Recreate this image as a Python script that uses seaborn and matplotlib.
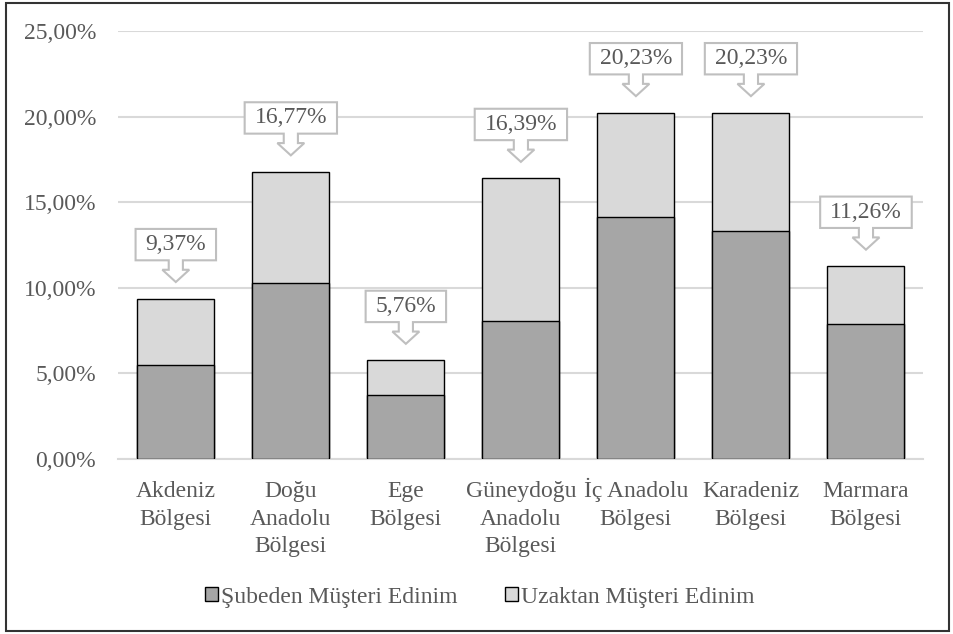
import matplotlib
matplotlib.use("Agg")
import matplotlib.pyplot as plt
import seaborn as sns
import pandas as pd
from matplotlib.path import Path
from matplotlib.patches import Patch, Rectangle
from matplotlib.ticker import FuncFormatter, MultipleLocator

regions = ["Akdeniz\nBölgesi", "Doğu\nAnadolu\nBölgesi", "Ege\nBölgesi",
           "Güneydoğu\nAnadolu\nBölgesi", "İç Anadolu\nBölgesi",
           "Karadeniz\nBölgesi", "Marmara\nBölgesi"]
totals = [9.37, 16.77, 5.76, 16.39, 20.23, 20.23, 11.26]
subeden = [5.50, 10.31, 3.76, 8.09, 14.15, 13.33, 7.89]

DARK = "#A6A6A6"
LIGHT = "#D9D9D9"
TXT = "#595959"
GRID = "#D9D9D9"


def fmt_pct(v, pos=None):
    return f"{v:.2f}".replace(".", ",") + "%"


def callout(x0, y0, width, height, mutation_size):
    # rectangle with a down-pointing arrow under it
    fs = mutation_size
    padx, pady = 0.42 * fs, 0.22 * fs
    l, r = x0 - padx, x0 + width + padx
    b, t = y0 - pady, y0 + height + pady
    cx = (l + r) / 2
    sw, hw = 0.30 * fs, 0.57 * fs
    sl, hl = 0.40 * fs, 0.52 * fs
    verts = [(l, b), (l, t), (r, t), (r, b),
             (cx + sw, b), (cx + sw, b - sl), (cx + hw, b - sl),
             (cx, b - sl - hl),
             (cx - hw, b - sl), (cx - sw, b - sl), (cx - sw, b), (l, b)]
    codes = [Path.MOVETO] + [Path.LINETO] * (len(verts) - 2) + [Path.CLOSEPOLY]
    return Path(verts, codes)


df = pd.DataFrame({"region": regions, "total": totals, "subeden": subeden})

sns.set_style("white")
plt.rcParams["font.family"] = ["Liberation Serif", "DejaVu Serif"]

fig = plt.figure(figsize=(9.54, 6.34), dpi=100)
ax = fig.add_axes([0.124, 0.276, 0.844, 0.675])

sns.barplot(data=df, x="region", y="total", color=LIGHT, width=0.67,
            edgecolor="black", linewidth=1.0, saturation=1, ax=ax, zorder=2)
sns.barplot(data=df, x="region", y="subeden", color=DARK, width=0.67,
            edgecolor="black", linewidth=1.0, saturation=1, ax=ax, zorder=3)

ax.set_ylim(0, 25)
ax.set_xlim(-0.5, len(regions) - 0.5)
ax.yaxis.set_major_locator(MultipleLocator(5))
ax.yaxis.set_major_formatter(FuncFormatter(fmt_pct))
ax.grid(axis="y", color=GRID, linewidth=1.5, zorder=0)
ax.set_axisbelow(True)
for s in ["top", "right", "left"]:
    ax.spines[s].set_visible(False)
ax.spines["bottom"].set_color(GRID)
ax.spines["bottom"].set_linewidth(1.5)
ax.set_xlabel("")
ax.set_ylabel("")
ax.tick_params(axis="y", length=0, pad=16, labelsize=17, labelcolor=TXT)
ax.tick_params(axis="x", length=0, labelbottom=False)

# category labels, one line at a time so the baselines line up
for i, name in enumerate(regions):
    for k, line in enumerate(name.split("\n")):
        ax.annotate(line, xy=(i, 0), xycoords=("data", "axes fraction"),
                    xytext=(0, -38 - 27.5 * k), textcoords="offset pixels",
                    ha="center", va="baseline", fontsize=17, color=TXT)

# data callouts
for i, tot in enumerate(df["total"]):
    ax.annotate(fmt_pct(tot), xy=(i, tot), xytext=(0, 54),
                textcoords="offset pixels", ha="center", va="center",
                fontsize=17, color=TXT, zorder=5,
                bbox=dict(boxstyle=callout, fc="white", ec="#BFBFBF", lw=1.5))

handles = [Patch(facecolor=DARK, edgecolor="black", label="Şubeden Müşteri Edinim"),
           Patch(facecolor=LIGHT, edgecolor="black", label="Uzaktan Müşteri Edinim")]
leg = fig.legend(handles=handles, loc="center", bbox_to_anchor=(0.503, 0.058),
                 ncol=2, frameon=False, fontsize=17, handlelength=0.55,
                 handleheight=0.55, handletextpad=0.12, columnspacing=2.0)
for t in leg.get_texts():
    t.set_color(TXT)

fig.patches.append(Rectangle((0.006, 0.004), 0.989, 0.991, transform=fig.transFigure,
                             fill=False, edgecolor="#333333", linewidth=1.5))

fig.savefig("out.png", dpi=100)
